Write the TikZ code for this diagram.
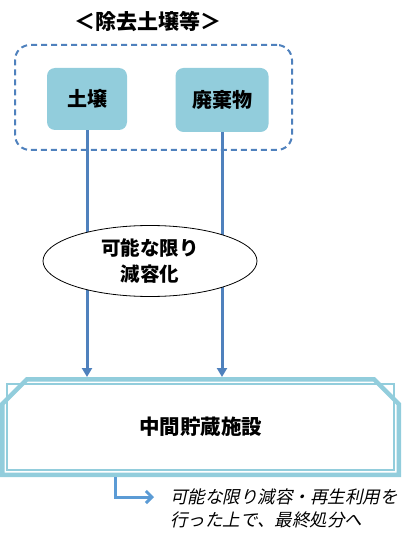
\documentclass[tikz,border=0pt]{standalone}
\usepackage{fontspec}
\usepackage{tikz}
\usetikzlibrary{positioning, shapes.geometric, shapes.misc, arrows.meta}
\setmainfont{Noto Sans CJK JP}
\newfontfamily\jpslant[FakeSlant=0.22]{Noto Sans CJK JP}
\definecolor{boxblue}{HTML}{92CDDC}
\definecolor{lineblue}{HTML}{4F81BD}
\definecolor{bendblue}{HTML}{5B9BD5}

\begin{document}
\begin{tikzpicture}[
    x=1pt, y=-1pt,
    item/.style={rectangle, rounded corners=8pt, fill=boxblue, font=\fontsize{20}{24}\selectfont\bfseries},
    flow/.style={draw=lineblue, line width=3pt, -{Triangle[length=9pt, width=10pt]}},
    frame/.style={chamfered rectangle, chamfered rectangle corners={north west, north east}, draw=boxblue},
    every node/.style={inner sep=0pt}
]
    \useasboundingbox (0,0) rectangle (410,540);

    % Group of incoming materials
    \node[font=\fontsize{21}{24}\selectfont\bfseries] (title) at (148,22) {＜除去土壌等＞};
    \node[rectangle, rounded corners=15pt, draw=lineblue, line width=2pt,
          dash pattern=on 6pt off 4pt, minimum width=277pt, minimum height=105pt] (group) at (153.5,97.5) {};
    \node[item, minimum width=80pt, minimum height=62pt] (soil) at (87,99) {土壌};
    \node[item, minimum width=93pt, minimum height=64pt] (waste) at (222,100) {廃棄物};

    % Storage facility (thick outer line, thin inner line)
    \node[frame, line width=4.5pt, chamfered rectangle xsep=15pt, chamfered rectangle ysep=15pt,
          minimum width=396.5pt, minimum height=95.5pt,
          font=\fontsize{20.5}{24}\selectfont\bfseries] (store) at (200.5,427) {中間貯蔵施設};
    \node[frame, line width=1.3pt, chamfered rectangle xsep=13pt, chamfered rectangle ysep=13pt,
          minimum width=386.8pt, minimum height=85.8pt] (storeline) at (store.center) {};

    % Flows into storage
    \draw[flow] (soil.south) -- (soil.south |- store.north);
    \draw[flow] (waste.south) -- (waste.south |- store.north);

    \node[ellipse, draw=black, line width=0.8pt, fill=white, minimum width=214pt, minimum height=71pt,
          align=center, font=\fontsize{19.5}{26}\selectfont\bfseries] (reduce) at (150,261) {可能な限り\\減容化};

    % Final disposal
    \coordinate (bend) at (115,497);
    \coordinate (tip) at (154,497);
    \draw[draw=bendblue, line width=3pt, -{Straight Barb[length=6pt, width=12pt]}]
        (store.south -| bend) -- (bend) -- (tip);
    \node[anchor=west, align=left, font=\fontsize{17.5}{23}\selectfont\jpslant] (note) at (170,508)
        {可能な限り減容・再生利用を\\行った上で、最終処分へ};
\end{tikzpicture}
\end{document}
